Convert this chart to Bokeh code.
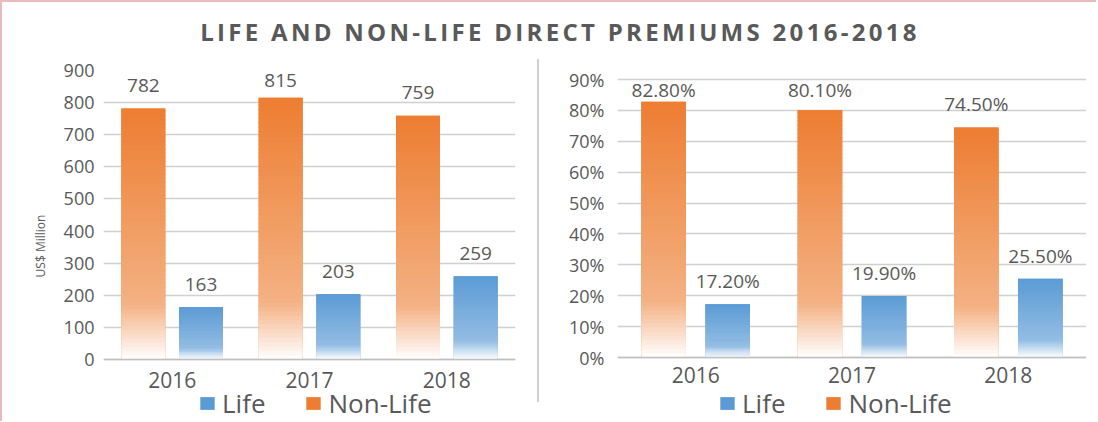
from bokeh.plotting import figure
from bokeh.models import (ColumnDataSource, FactorRange, Range1d, Legend, LegendItem,
                          Div, FixedTicker, PrintfTickFormatter, Span)
from bokeh.layouts import row, column
from bokeh.transform import dodge
from bokeh.core.properties import value
from bokeh.embed import file_html
from bokeh.resources import INLINE

# ---------------- data ----------------
years = ["2016", "2017", "2018"]
life_musd = [163, 203, 259]
nonlife_musd = [782, 815, 759]
life_pct = [17.2, 19.9, 25.5]
nonlife_pct = [82.8, 80.1, 74.5]
series_names = ["Life", "Non-Life"]
title_text = "LIFE AND NON-LIFE DIRECT PREMIUMS 2016-2018"
y_label_left = "US$ Million"
musd_ticks = list(range(0, 901, 100))
pct_ticks = list(range(0, 91, 10))

# ---------------- style / geometry ----------------
FONT = "Open Sans"
TXT = "#595959"
ORANGE = "#ED7D31"
BLUE = "#5B9BD5"
ORANGE_STOPS = [(0.0, (255, 255, 255)), (0.22, (244, 177, 131)), (1.0, (237, 125, 49))]
BLUE_STOPS = [(0.0, (255, 255, 255)), (0.22, (147, 189, 227)), (1.0, (91, 155, 213))]
N = 60
FIG_H = 379
BT = 28          # border above the frame
FRAME_H = FIG_H - BT


def grad_color(stops, f):
    for (f0, c0), (f1, c1) in zip(stops[:-1], stops[1:]):
        if f0 <= f <= f1:
            t = (f - f0) / (f1 - f0)
            r, g, b = (int(round(a + (bb - a) * t)) for a, bb in zip(c0, c1))
            return "#%02x%02x%02x" % (r, g, b)
    r, g, b = stops[-1][1]
    return "#%02x%02x%02x" % (r, g, b)


def slice_source(vals, stops):
    xs, bottoms, tops, colors = [], [], [], []
    for yr, v in zip(years, vals):
        for i in range(N):
            f = (i + 0.5) / N
            xs.append(yr)
            bottoms.append(v * i / N)
            tops.append(min(v, v * (i + 1.6) / N))
            colors.append(grad_color(stops, f))
    return ColumnDataSource(dict(x=xs, bottom=bottoms, top=tops, color=colors))


def make_panel(nonlife, life, ticks, tick_fmt, label_fmt, width, bl, fw,
               top_gap, axis_px, ylabel, leg_x, tick_standoff, off, bw, year_dy):
    # top_gap: pixels between frame top and top tick; axis_px: pixels from top tick to 0
    ymax_tick = ticks[-1]
    upp = ymax_tick / axis_px
    y_end = ymax_tick + top_gap * upp
    y_start = -(FRAME_H - top_gap - axis_px) * upp
    p = figure(x_range=FactorRange(*years), y_range=Range1d(y_start, y_end),
               width=width, height=FIG_H, x_axis_location=None,
               min_border_left=bl, min_border_right=width - bl - fw,
               min_border_top=BT, min_border_bottom=0,
               output_backend="svg", toolbar_location=None)
    p.title = None
    p.outline_line_color = None
    p.background_fill_color = "white"
    p.border_fill_color = "white"
    p.xgrid.visible = False
    p.ygrid.grid_line_color = "#D0D0D0"
    p.ygrid.grid_line_width = 1.5

    # full bars (base colours) - used for the legend
    src_nl = ColumnDataSource(dict(x=years, top=nonlife))
    src_l = ColumnDataSource(dict(x=years, top=life))
    r_nl = p.vbar(x=dodge("x", -off, range=p.x_range), top="top", bottom=0, width=bw,
                  source=src_nl, fill_color=ORANGE, line_color=None)
    r_l = p.vbar(x=dodge("x", off, range=p.x_range), top="top", bottom=0, width=bw,
                 source=src_l, fill_color=BLUE, line_color=None)
    # gradient overlay
    p.vbar(x=dodge("x", -off, range=p.x_range), top="top", bottom="bottom", width=bw,
           source=slice_source(nonlife, ORANGE_STOPS), fill_color="color", line_color=None)
    p.vbar(x=dodge("x", off, range=p.x_range), top="top", bottom="bottom", width=bw,
           source=slice_source(life, BLUE_STOPS), fill_color="color", line_color=None)

    # category axis line at zero
    p.add_layout(Span(location=0, dimension="width", line_color="#BFBFBF", line_width=1.5))

    # category labels
    ysrc = ColumnDataSource(dict(x=years, y=[0] * len(years)))
    p.text(x="x", y="y", text="x", source=ysrc, text_align="center",
           text_baseline="middle", y_offset=year_dy, text_font=value(FONT),
           text_font_size="21px", text_color=TXT)

    # data labels, kept inside the plot area like the original
    clamp = ymax_tick - 33 * upp
    for vals, o in ((nonlife, -off), (life, off)):
        src = ColumnDataSource(dict(x=years, y=[min(v, clamp) for v in vals],
                                    t=[label_fmt(v) for v in vals]))
        p.text(x=dodge("x", o, range=p.x_range), y="y", text="t", source=src,
               text_align="center", text_baseline="middle", y_offset=-23,
               text_font=value(FONT), text_font_size="19px", text_color=TXT)

    # y axis
    p.yaxis.ticker = FixedTicker(ticks=ticks)
    p.yaxis.formatter = tick_fmt
    p.yaxis.axis_line_color = None
    p.yaxis.major_tick_line_color = None
    p.yaxis.minor_tick_line_color = None
    p.yaxis.major_tick_out = 0
    p.yaxis.major_tick_in = 0
    p.yaxis.major_label_standoff = tick_standoff
    p.yaxis.major_label_text_font = FONT
    p.yaxis.major_label_text_font_size = "18px"
    p.yaxis.major_label_text_color = TXT
    if ylabel:
        p.yaxis.axis_label = ylabel
        p.yaxis.axis_label_text_font = FONT
        p.yaxis.axis_label_text_font_size = "12px"
        p.yaxis.axis_label_text_font_style = "normal"
        p.yaxis.axis_label_text_color = TXT
        p.yaxis.axis_label_standoff = 12

    legend = Legend(items=[LegendItem(label=series_names[0], renderers=[r_l]),
                           LegendItem(label=series_names[1], renderers=[r_nl])],
                    orientation="horizontal", location=(leg_x, 0),
                    padding=0, margin=0, spacing=39, label_standoff=6,
                    glyph_width=18, glyph_height=16,
                    label_text_font=FONT, label_text_font_size="26px",
                    label_text_color=TXT, border_line_color=None,
                    background_fill_alpha=0)
    p.add_layout(legend, "center")
    return p


p1 = make_panel(nonlife_musd, life_musd, musd_ticks, PrintfTickFormatter(format="%d"),
                lambda v: "%d" % v, 535, 101, 412, 0, 289, y_label_left, 95, 9,
                0.21, 0.32, 20)
p2 = make_panel(nonlife_pct, life_pct, pct_ticks, PrintfTickFormatter(format="%d%%"),
                lambda v: "%.2f%%" % v, 547, 78, 469, 9, 278, None, 101, 13,
                0.205, 0.285, 17)

title = Div(text=('<div style="width:1060px; margin-left:28px; padding-top:12px; '
                  'line-height:36px; text-align:center; font-family:\'Open Sans\'; '
                  'font-weight:bold; font-size:24px; letter-spacing:3.3px; color:#595959;">'
                  + title_text + '</div>'),
            width=1094, height=40, margin=0)
sep = Div(text="", width=2, height=343, margin=(17, 0, 0, 0),
          styles={"background-color": "#D0D0D0"})

layout = column(title, row(p1, sep, p2),
                styles={"border-top": "2px solid #EBBABA", "border-left": "2px solid #EBBABA"})

open("out.html", "w").write(file_html(layout, INLINE))
